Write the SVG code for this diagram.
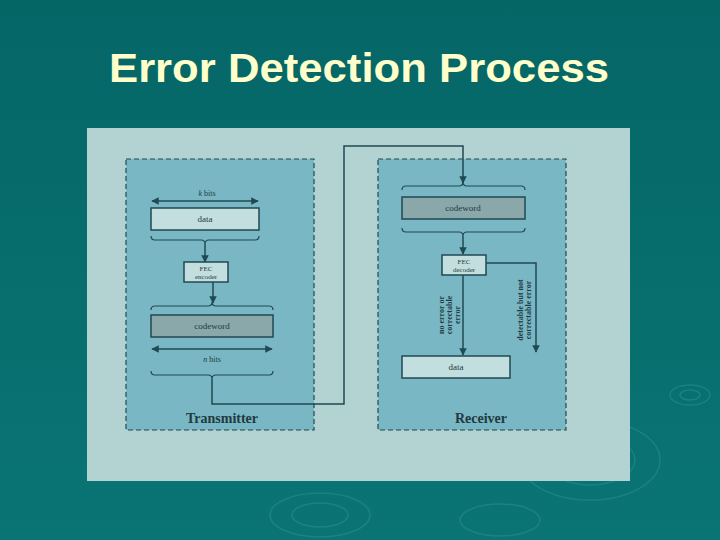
<svg xmlns="http://www.w3.org/2000/svg" width="720" height="540" viewBox="0 0 720 540">
<defs>
<linearGradient id="bg" x1="0" y1="0" x2="0" y2="1"><stop offset="0" stop-color="#056666"/><stop offset="1" stop-color="#0a7474"/></linearGradient>
<marker id="ah" viewBox="0 0 10 10" refX="9" refY="5" markerWidth="5" markerHeight="5" orient="auto-start-reverse"><path d="M0,0 L10,5 L0,10 z" fill="#1f4a52"/></marker>
<style>
.ln{stroke:#1f4a52;stroke-width:1.5;fill:none}
.br{stroke:#1f4a52;stroke-width:1.2;fill:none}
.grp{fill:#79b7c4;stroke:#1f4a52;stroke-width:1.2;stroke-dasharray:5,3}
.bx{fill:#c2dede;stroke:#1f4a52;stroke-width:1.5}
.cw{fill:#8aa7a9;stroke:#1f4a52;stroke-width:1.5}
.t{font-family:"Liberation Serif",serif;fill:#1f3a40;text-anchor:middle}
.rip{fill:none;stroke:#2a8a8a;stroke-width:1.5;opacity:0.6}
</style>
</defs>
<rect width="720" height="540" fill="url(#bg)"/>
<g id="ripples">
<ellipse class="rip" cx="690" cy="395" rx="20" ry="10"/><ellipse class="rip" cx="690" cy="395" rx="10" ry="5"/>
<ellipse class="rip" cx="590" cy="460" rx="70" ry="40"/><ellipse class="rip" cx="590" cy="460" rx="45" ry="25"/>
<ellipse class="rip" cx="320" cy="515" rx="50" ry="22"/><ellipse class="rip" cx="320" cy="515" rx="28" ry="12"/>
<ellipse class="rip" cx="500" cy="520" rx="40" ry="16"/>
</g>
<text x="359" y="82" font-family="Liberation Sans,Arial,sans-serif" font-size="40" font-weight="bold" textLength="500" lengthAdjust="spacingAndGlyphs" fill="#ffffcc" text-anchor="middle">Error Detection Process</text>
<rect x="87" y="128" width="543" height="353" fill="#b3d3d3"/>
<g id="transmitter">
<rect class="grp" x="126" y="159" width="188" height="271"/>
<text class="t" x="222" y="423" font-size="14" font-weight="bold">Transmitter</text>
</g>
<g id="receiver">
<rect class="grp" x="378" y="159" width="188" height="271"/>
<text class="t" x="481" y="423" font-size="14" font-weight="bold">Receiver</text>
</g>
<g id="tx-data"><rect class="bx" x="151" y="208" width="108" height="22"/><text class="t" x="205" y="222" font-size="9">data</text></g>
<g id="tx-fec"><rect class="bx" x="184" y="262" width="44" height="20"/><text class="t" x="206" y="271" font-size="7">FEC</text><text class="t" x="206" y="279" font-size="7">encoder</text></g>
<g id="tx-codeword"><rect class="cw" x="151" y="315" width="122" height="22"/><text class="t" x="212" y="329" font-size="9">codeword</text></g>
<g id="rx-codeword"><rect class="cw" x="402" y="197" width="123" height="22"/><text class="t" x="463" y="211" font-size="9">codeword</text></g>
<g id="rx-fec"><rect class="bx" x="442" y="255" width="44" height="20"/><text class="t" x="464" y="264" font-size="7">FEC</text><text class="t" x="464" y="272" font-size="7">decoder</text></g>
<g id="rx-data"><rect class="bx" x="402" y="356" width="108" height="22"/><text class="t" x="456" y="370" font-size="9">data</text></g>
<g id="labels">
<text class="t" x="207" y="196" font-size="8"><tspan font-style="italic">k</tspan> bits</text>
<text class="t" x="212" y="362" font-size="8"><tspan font-style="italic">n</tspan> bits</text>
<text class="t" font-size="8" font-weight="bold" transform="translate(444,315) rotate(-90)">no error or</text>
<text class="t" font-size="8" font-weight="bold" transform="translate(452,315) rotate(-90)">correctable</text>
<text class="t" font-size="8" font-weight="bold" transform="translate(460,315) rotate(-90)">error</text>
<text class="t" font-size="8" font-weight="bold" transform="translate(523,310) rotate(-90)">detectable but not</text>
<text class="t" font-size="8" font-weight="bold" transform="translate(531,310) rotate(-90)">correctable error</text>
</g>
<g id="connectors">
<line class="ln" x1="152" y1="201" x2="258" y2="201" marker-start="url(#ah)" marker-end="url(#ah)"/>
<line class="ln" x1="152" y1="349" x2="272" y2="349" stroke-width="1" marker-start="url(#ah)" marker-end="url(#ah)"/>
<path class="br" d="M151,236 q0,4 4,4 h46 q4,0 4,4 q0,-4 4,-4 h46 q4,0 4,-4"/>
<path class="ln" d="M205,244 V262" marker-end="url(#ah)"/>
<path class="ln" d="M213,282 V303" marker-end="url(#ah)"/>
<path class="br" d="M151,310 q0,-4 4,-4 h53 q4,0 4,-4 q0,4 4,4 h53 q4,0 4,4"/>
<path class="br" d="M151,371 q0,4 4,4 h53 q4,0 4,4 q0,-4 4,-4 h53 q4,0 4,-4"/>
<path class="ln" d="M212,379 V404 H344 V146 H463 V183" marker-end="url(#ah)"/>
<path class="br" d="M402,190 q0,-4 4,-4 h53 q4,0 4,-4 q0,4 4,4 h54 q4,0 4,4"/>
<path class="br" d="M402,228 q0,4 4,4 h53 q4,0 4,4 q0,-4 4,-4 h54 q4,0 4,-4"/>
<path class="ln" d="M463,236 V254" marker-end="url(#ah)"/>
<path class="ln" d="M463,275 V355" marker-end="url(#ah)"/>
<path class="ln" d="M486,263 H536 V352" marker-end="url(#ah)"/>
</g>
</svg>
